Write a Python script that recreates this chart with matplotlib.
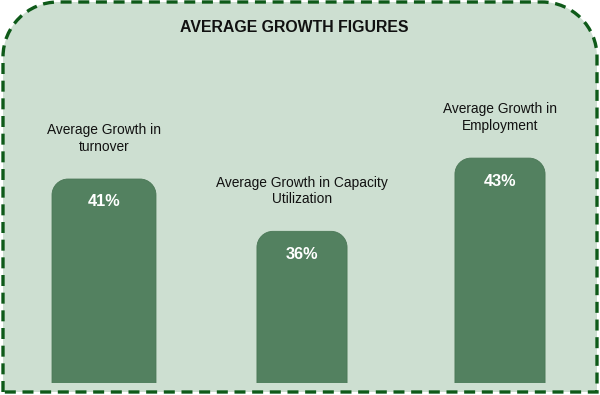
import matplotlib
matplotlib.use("Agg")
import matplotlib.pyplot as plt
from matplotlib.path import Path
from matplotlib.patches import PathPatch
from matplotlib.transforms import Affine2D

plt.rcParams['font.family'] = ['Liberation Sans', 'DejaVu Sans']

# data
categories = ["Average Growth in\nturnover",
              "Average Growth in Capacity\nUtilization",
              "Average Growth in\nEmployment"]
values = [41, 36, 43]
value_labels = ["41%", "36%", "43%"]
title = "AVERAGE GROWTH FIGURES"

W, H = 600, 395
bg = "#cddfd1"
bar_color = "#538160"
edge_green = "#0e5a19"

fig = plt.figure(figsize=(W / 100, H / 100), dpi=100)
fig.patch.set_facecolor("white")

K = 0.5523


def top_rounded(x0, y0, x1, y1, rx, ry):
    # rectangle with rounded top corners, square bottom
    verts = [(x0, y0), (x0, y1 - ry),
             (x0, y1 - ry + K * ry), (x0 + rx - K * rx, y1), (x0 + rx, y1),
             (x1 - rx, y1),
             (x1 - rx + K * rx, y1), (x1, y1 - ry + K * ry), (x1, y1 - ry),
             (x1, y0), (x0, y0)]
    codes = [Path.MOVETO, Path.LINETO,
             Path.CURVE4, Path.CURVE4, Path.CURVE4,
             Path.LINETO,
             Path.CURVE4, Path.CURVE4, Path.CURVE4,
             Path.LINETO, Path.CLOSEPOLY]
    return Path(verts, codes)


# outer frame in pixel coordinates (y up)
px = Affine2D().scale(1 / W, 1 / H) + fig.transFigure
frame = PathPatch(top_rounded(3, 3, 597, 393, 55, 55), transform=px,
                  facecolor=bg, edgecolor=edge_green, lw=2.4,
                  linestyle=(0, (3.3, 2.0)), zorder=-5)
fig.patches.append(frame)

fig.text(294 / W, 1 - 27 / H, title, ha="center", va="center",
         fontsize=11.4, fontweight="bold", color="#111111")

# axes spanning the width, bottom at bar baseline
ax_bottom = 12
ax = fig.add_axes([0, ax_bottom / H, 1, (H - ax_bottom) / H])
ax.set_zorder(2)
ax.set_facecolor("none")
ax.axis("off")
xscale = 198.0
ax.set_xlim(-104 / xscale, (W - 104) / xscale)
ymin, kpx = 21.5, 10.46
ax.set_ylim(ymin, ymin + (H - ax_bottom) / kpx)

widths = [0.525, 0.455, 0.455]
bars = ax.bar(range(len(values)), values, width=widths, color="none")
r_px = 16
for b, lab, vl in zip(bars, categories, value_labels):
    x0 = b.get_x()
    x1 = x0 + b.get_width()
    top = b.get_height()
    p = top_rounded(x0, ymin - 1, x1, top, r_px / xscale, r_px / kpx)
    ax.add_patch(PathPatch(p, facecolor=bar_color, edgecolor="#4a7756",
                           lw=0.6, clip_on=True))
    xc = x0 + b.get_width() / 2
    ax.annotate(vl, (xc, top), xytext=(0, -16.5), textcoords="offset points",
                ha="center", va="center", fontsize=11.7, fontweight="bold",
                color="white")
    ax.annotate(lab, (xc, top), xytext=(0, 18), textcoords="offset points",
                ha="center", va="bottom", fontsize=9.9, color="#111111",
                linespacing=1.25)

fig.savefig("out.png", dpi=100, facecolor=fig.get_facecolor())
